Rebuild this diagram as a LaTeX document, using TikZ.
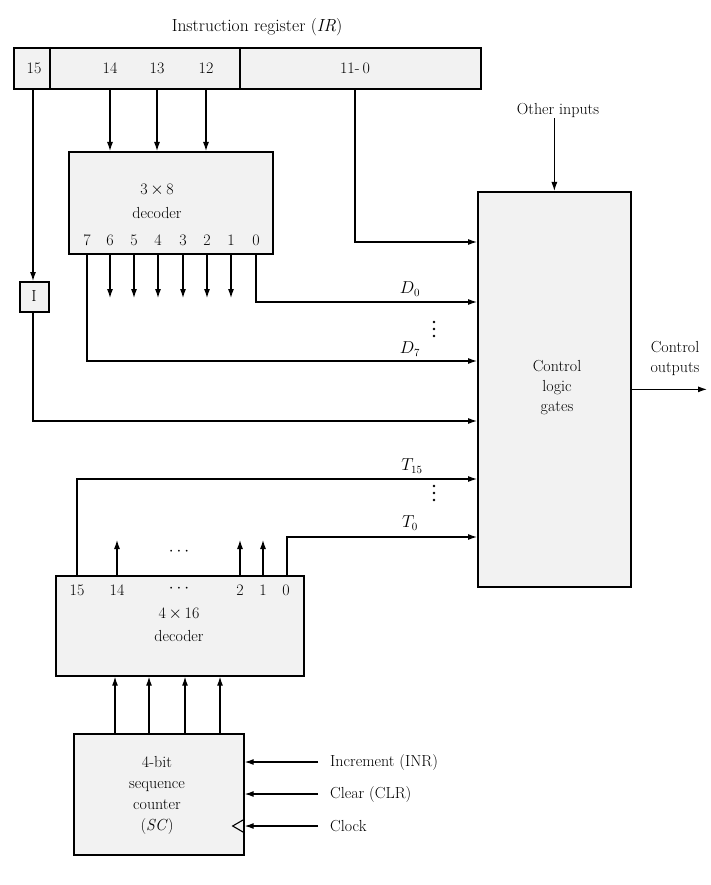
\documentclass[tikz,border=0pt]{standalone}
\usetikzlibrary{arrows.meta,calc}
\newcommand\dfont{\fontsize{16}{20}\selectfont}
\begin{document}
\begin{tikzpicture}[x=1pt,y=-1pt,
  every node/.style={font=\dfont, inner sep=1pt},
  blk/.style={draw, line width=1.7pt, fill=gray!10, inner sep=0pt, anchor=north west},
  wire/.style={line width=1.1pt},
  arr/.style={wire, -{Latex[length=9pt,width=6pt]}},
  lab/.style={anchor=west, inner xsep=12pt},
  dotc/.style={fill, radius=1.4pt}]
\useasboundingbox (0,0) rectangle (711,885);

% ---------------- blocks
\node[blk, minimum width=467, minimum height=41] (ir) at (13,47) {};
\node[blk, minimum width=204, minimum height=102] (dec3) at (68,151) {};
\node[blk, minimum width=29, minimum height=30] (ibox) at (19,281) {};
\node[blk, minimum width=153, minimum height=395] (ctrl) at (477,191) {};
\node[blk, minimum width=248, minimum height=100] (dec4) at (55,575) {};
\node[blk, minimum width=170, minimum height=121] (sc) at (73,733) {};

% IR dividers and labels
\draw[line width=1.5pt] (50,47) -- (50,88);
\draw[line width=1.5pt] (240,47) -- (240,88);
\node[font=\fontsize{17.5}{20}\selectfont] (irtitle) at (257,27) {Instruction register (\textit{IR})};
\node at (34,68) {15};
\node at (110,68) {14};
\node at (157,68) {13};
\node at (206,68) {12};
\node at (355,68) {11-\hspace{3pt}0};

% 3x8 decoder texts
\node at (157,190) {3\,$\times$\,8};
\node at (157,213) {decoder};
\foreach \x/\t in {87/7,110/6,134/5,158/4,183/3,207/2,231/1,256/0}
  \node at (\x,240) {\t};
\node at (34,296) {I};

% control box text
\node[align=center] at (557,388) {Control\\logic\\gates};
\node (oth) at (558,110) {Other inputs};
\node[align=center] (couttxt) at (675,358) {Control\\outputs};

% 4x16 decoder texts
\node at (179,614) {4\,$\times$\,16};
\node at (179,636) {decoder};
\foreach \x/\t in {77/15,117/14,240/2,263/1,286/0}
  \node at (\x,590) {\t};
\node at (179,589) {$\cdots$};
\node at (179,552) {$\cdots$};

% sequence counter texts
\node[align=center, font=\fontsize{16}{21}\selectfont] at (157,795) {4-bit\\sequence\\counter\\(\textit{SC})};
\node[lab] (inr) at (318,762) {Increment (INR)};
\node[lab] (clr) at (318,794) {Clear (CLR)};
\node[lab] (clk) at (318,826) {Clock};

% signal labels
\node (lD0) at (410,289) {$D_0$};
\node (lD7) at (410,349) {$D_7$};
\node (lT15) at (412,466) {$T_{15}$};
\node (lT0) at (410,523) {$T_0$};

% ---------------- pin coordinates
\coordinate (a14) at (110,0);
\coordinate (a13) at (157,0);
\coordinate (a12) at (206,0);
\coordinate (a15) at (33,0);
\coordinate (a11) at (355,0);
\coordinate (yop) at (0,242);
\coordinate (yd0) at (0,302);
\coordinate (yd7) at (0,361);
\coordinate (yi)  at (0,421);
\coordinate (yt15) at (0,479);
\coordinate (yt0) at (0,537);
\coordinate (d7) at (87,0);
\coordinate (d0) at (256,0);
\coordinate (t15) at (77,0);
\coordinate (t0) at (287,0);
\coordinate (cend) at (707,0);

% ---------------- connectors
\foreach \c in {a14,a13,a12}
  \draw[arr] (ir.south -| \c) -- (dec3.north -| \c);
\draw[arr] (ir.south -| a15) -- (ibox.north -| a15);
\draw[arr] (ibox.south -| a15) |- (ctrl.west |- yi);
\draw[arr] (ir.south -| a11) |- (ctrl.west |- yop);

\foreach \x in {110,134,158,183,207,231}{
  \coordinate (q\x) at (\x,298);
  \draw[arr] (dec3.south -| q\x) -- (q\x);
}
\draw[arr] (dec3.south -| d0) |- (ctrl.west |- yd0);
\draw[arr] (dec3.south -| d7) |- (ctrl.west |- yd7);
\fill[dotc] (434,322) circle[] (434,329) circle[] (434,336) circle[];

\draw[arr] (dec4.north -| t15) |- (ctrl.west |- yt15);
\draw[arr] (dec4.north -| t0) |- (ctrl.west |- yt0);
\fill[dotc] (434,486) circle[] (434,493) circle[] (434,500) circle[];

\foreach \x in {117,240,263}{
  \coordinate (u\x) at (\x,540);
  \draw[arr] (dec4.north -| u\x) -- (u\x);
}

\foreach \x in {115,149,185,220}{
  \coordinate (s\x) at (\x,0);
  \draw[arr] (sc.north -| s\x) -- (dec4.south -| s\x);
}

\draw[arr] (oth.south -| ctrl.north) -- (ctrl.north);
\draw[arr] (ctrl.east) -- (ctrl.east -| cend);

\foreach \n in {inr,clr,clk}
  \draw[arr] (\n.west) -- (sc.east |- \n.west);
% clock triangle
\draw[wire] ($(sc.east |- clk.west)+(0,-7)$) -- ++(-12,7) -- ++(12,7);
\end{tikzpicture}
\end{document}
